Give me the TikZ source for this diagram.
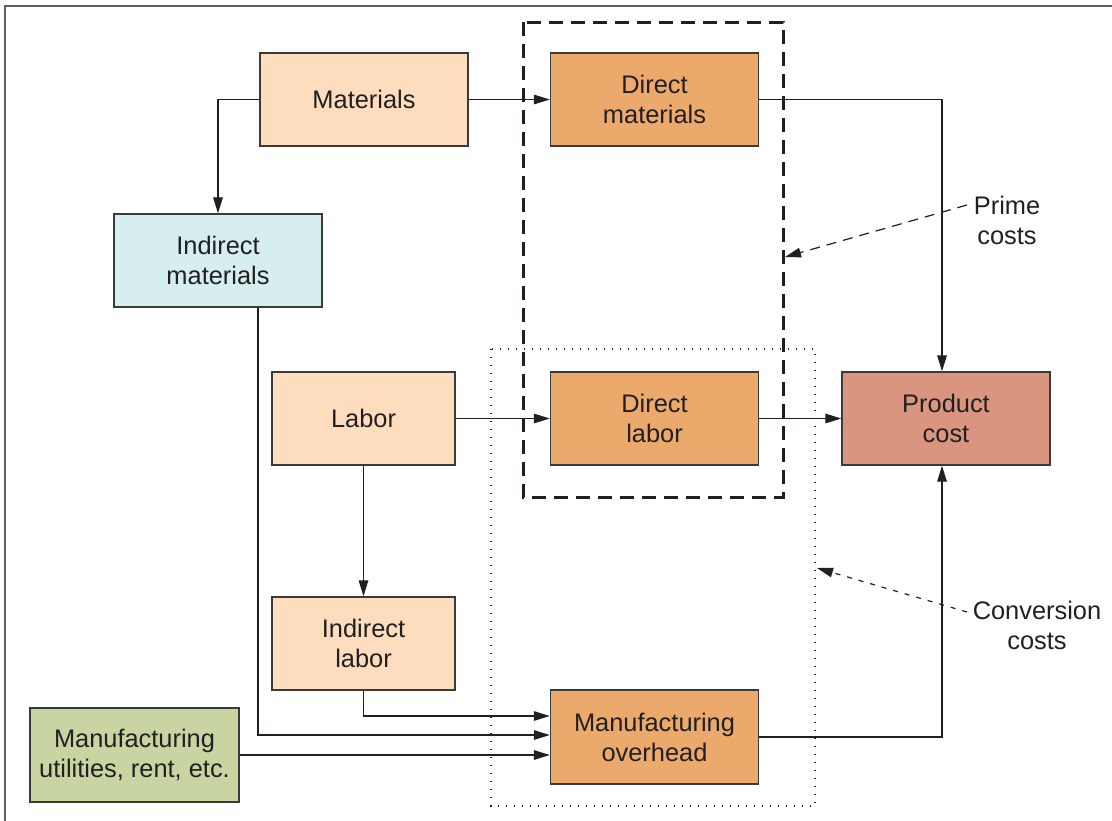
\documentclass[tikz,border=0pt]{standalone}
\usepackage{fontspec}
\setmainfont{Liberation Sans}
\usetikzlibrary{arrows.meta}
\definecolor{ink}{HTML}{231F20}
\definecolor{edge}{HTML}{3A3A3A}
\definecolor{peach}{HTML}{FDDDBD}
\definecolor{amber}{HTML}{EBA96C}
\definecolor{aqua}{HTML}{D6EEF0}
\definecolor{rose}{HTML}{D9957F}
\definecolor{sage}{HTML}{C8D5A3}
\begin{document}
\begin{tikzpicture}[x=0.5pt,y=-0.5pt,
  costbox/.style={draw=edge,line width=0.7pt,inner sep=0pt,align=center,text=ink,
    font=\fontsize{12.7}{15}\selectfont,minimum height=46.5pt},
  wide/.style={costbox,minimum width=104pt},
  narrow/.style={costbox,minimum width=91.5pt},
  flow/.style={draw=ink,line width=0.6pt,-{Triangle[length=8pt,width=4.8pt]}},
  note/.style={align=center,text=ink,font=\fontsize{12.7}{15}\selectfont,inner sep=0pt}]
\useasboundingbox (0,0) rectangle (1112,820);
% outer frame, open at right and bottom
\draw[draw=edge!80,line width=1pt] (5,830) -- (5,6) -- (1120,6);

% cost groupings
\draw[ink,line width=1.5pt,dash pattern=on 7pt off 4pt] (523,22) rectangle (783,497);
\draw[ink,line width=0.6pt,dash pattern=on 0.6pt off 3.4pt] (491,349) rectangle (815,806);

% boxes
\node[wide,fill=peach] (mat) at (364,99.5) {Materials};
\node[wide,fill=amber] (dmat) at (654.5,99.5) {Direct\\materials};
\node[wide,fill=aqua] (imat) at (218,260.5) {Indirect\\materials};
\node[narrow,fill=peach] (lab) at (363.5,418.5) {Labor};
\node[wide,fill=amber] (dlab) at (654.5,418.5) {Direct\\labor};
\node[wide,fill=rose] (pc) at (946,418.5) {Product\\cost};
\node[narrow,fill=peach] (ilab) at (363.5,643.5) {Indirect\\labor};
\node[wide,fill=amber,minimum height=47pt] (moh) at (654.5,737) {Manufacturing\\overhead};
\node[wide,fill=sage,minimum width=104.5pt,minimum height=47pt] (util) at (134.5,755) {Manufacturing\\utilities, rent, etc.};

% labels
\node[note] (prime) at (1007,220) {Prime\\costs};
\node[note] (conv) at (1037,625) {Conversion\\costs};
\coordinate (pstart) at (967,205);
\coordinate (pend) at (785,257);
\coordinate (cstart) at (967,612);
\coordinate (cend) at (817,568);

% flows
\draw[flow] (mat.east) -- (dmat.west);
\draw[flow] (mat.west) -| (imat.north);
\draw[flow] (dmat.east) -| ([xshift=-2pt]pc.north);
\draw[flow] (lab.east) -- (dlab.west);
\draw[flow] (dlab.east) -- (pc.west);
\draw[flow] (lab.south) -- (ilab.north);
\draw[flow] (ilab.south) |- ([yshift=10.5pt]moh.west);
\draw[flow] ([xshift=20pt]imat.south) |- ([yshift=1pt]moh.west);
\draw[flow] (util.east) -- (util.east -| moh.west);
\draw[flow] (moh.east) -| ([xshift=-2pt]pc.south);

% group pointers
\draw[ink,line width=0.6pt,dash pattern=on 5pt off 3.5pt,-{Triangle[length=8pt,width=4.8pt]}] (pstart) -- (pend);
\draw[ink,line width=0.6pt,dash pattern=on 2.5pt off 3.5pt,-{Triangle[length=8pt,width=4.8pt]}] (cstart) -- (cend);
\end{tikzpicture}
\end{document}
